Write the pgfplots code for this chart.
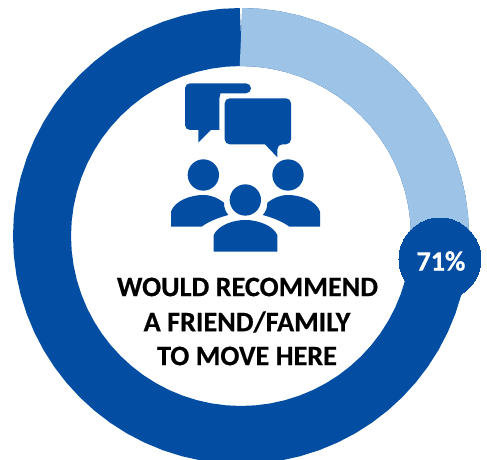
\documentclass[border=0pt]{standalone}
\usepackage{fontspec}
\setmainfont[BoldFeatures={FakeBold=0.5}]{Carlito}
\usepackage{pgfplots}
\pgfplotsset{compat=1.18}
\definecolor{dk}{RGB}{3,78,162}
\definecolor{lt}{RGB}{157,195,230}
\begin{document}
\begin{tikzpicture}
\useasboundingbox (0,0) rectangle (487pt,460pt);
\begin{axis}[
  at={(0,0)}, anchor=south west,
  scale only axis, width=487pt, height=460pt,
  xmin=-241, xmax=246, ymin=-224, ymax=236,
  axis lines=none, clip=true, data cs=polar]
% Share of respondents: 71% recommend (dark), 29% remainder (light); angle, radius
\addplot[dk, line width=58pt, line cap=butt, no markers] coordinates {
(90,199)(85,199)(80,199)(75,199)(70,199)(65,199)(60,199)(55,199)(50,199)(45,199)(40,199)(35,199)(30,199)(25,199)(20,199)(15,199)(10,199)(5,199)(0,199)(-5,199)(-10,199)(-15,199)(-20,199)(-25,199)(-30,199)(-35,199)(-40,199)(-45,199)(-50,199)(-55,199)(-60,199)(-65,199)(-70,199)(-75,199)(-80,199)(-85,199)(-90,199)(-95,199)(-100,199)(-105,199)(-110,199)(-115,199)(-120,199)(-125,199)(-130,199)(-135,199)(-140,199)(-145,199)(-150,199)(-155,199)(-160,199)(-165,199)(-170,199)(-175,199)(-180,199)(-185,199)(-190,199)(-195,199)(-200,199)(-205,199)(-210,199)(-215,199)(-220,199)(-225,199)(-230,199)(-235,199)(-240,199)(-245,199)(-250,199)(-255,199)(-260,199)(-265,199)(-270,199)};
\addplot[lt, line width=58pt, line cap=butt, no markers] coordinates {
(90,199)(85,199)(80,199)(75,199)(70,199)(65,199)(60,199)(55,199)(50,199)(45,199)(40,199)(35,199)(30,199)(25,199)(20,199)(15,199)(10,199)(5,199)(0,199)(-5,199)(-10,199)(-14.4,199)};
\addplot[only marks, mark=*, mark size=41pt, mark options={fill=dk, draw=dk, line width=0pt}] coordinates {(-6.6,200.3)};
\end{axis}
\begin{scope}[x=0.33333pt, y=-0.33333pt, shift={(150pt,390pt)}]
\fill[dk, rounded corners=5pt] (105,40) -- (303,40) -- (303,70) -- (225,70) [sharp corners] .. controls (214,70) and (208,78) .. (208,88) -- (208,180) -- (183,180) -- (145,218) -- (145,180) [rounded corners=5pt] -- (105,180) -- cycle;
\fill[dk, rounded corners=5pt] (224,85) -- (423,85) -- (423,223) -- (382,223) [sharp corners] -- (382,262) -- (345,223) [rounded corners=5pt] -- (224,223) -- cycle;
\fill[dk] (160,315) circle[radius=47];
\fill[dk] (414,315) circle[radius=47];
\fill[dk] (286,390) circle[radius=47];
\fill[dk] (63,470) -- (63,425) .. controls (75,390) and (125,375) .. (160,375) .. controls (185,375) and (205,385) .. (222,398) .. controls (222,412) and (226,425) .. (235,435) .. controls (205,443) and (175,455) .. (155,470) -- cycle;
\fill[dk] (510,470) -- (510,425) .. controls (498,390) and (448,375) .. (414,375) .. controls (389,375) and (369,385) .. (352,398) .. controls (352,412) and (348,425) .. (338,435) .. controls (368,443) and (398,455) .. (418,470) -- cycle;
\fill[dk] (191,545) -- (191,495) .. controls (205,465) and (250,450) .. (286,450) .. controls (322,450) and (368,465) .. (382,495) -- (382,545) -- cycle;
\end{scope}
\begin{scope}[x=1pt, y=-1pt, shift={(0pt,460pt)}]
\node[font=\fontsize{28.2}{32}\selectfont\bfseries, text=black, anchor=center, inner sep=0pt] at (247.5,287) {WOULD RECOMMEND};
\node[font=\fontsize{28.2}{32}\selectfont\bfseries, text=black, anchor=center, inner sep=0pt] at (247,322) {A FRIEND/FAMILY};
\node[font=\fontsize{28.2}{32}\selectfont\bfseries, text=black, anchor=center, inner sep=0pt] at (247,356) {TO MOVE HERE};
\node[font=\fontsize{28}{32}\selectfont\bfseries, text=white, anchor=center, inner sep=0pt] at (441,261) {71\%};
\end{scope}
\end{tikzpicture}
\end{document}
